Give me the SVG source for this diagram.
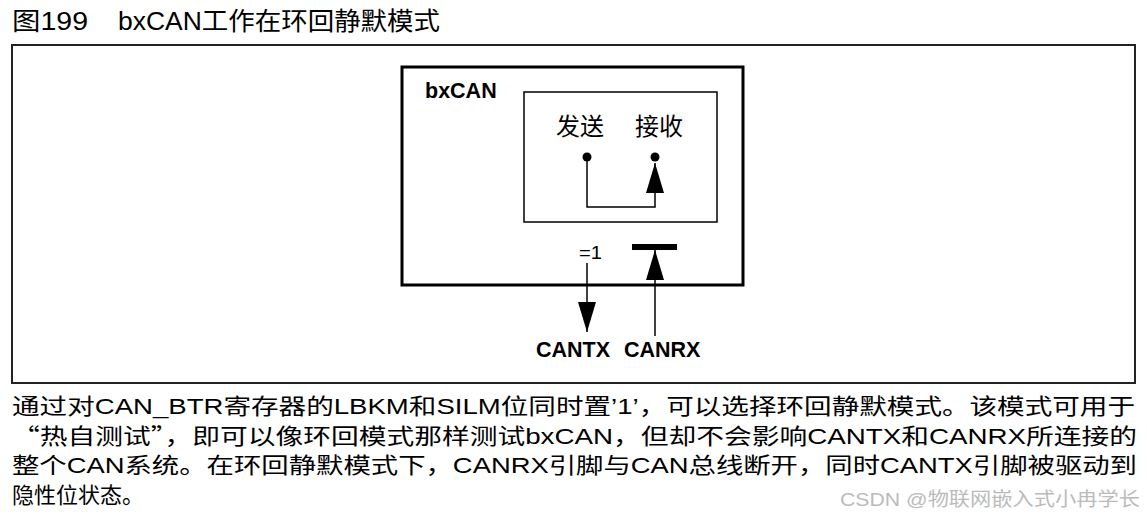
<svg xmlns="http://www.w3.org/2000/svg" width="1147" height="521" viewBox="0 0 1147 521">
<style>
.t{font-family:"Liberation Sans","Noto Sans CJK SC",sans-serif;fill:#000}
.b{font-family:"Liberation Sans",sans-serif;font-weight:bold;fill:#000}
.p{font-size:22px}
.q{font-family:"Noto Sans CJK SC",sans-serif}
.wm{font-family:"Liberation Sans","Noto Sans CJK SC",sans-serif;fill:#bbb;font-size:19px}
</style>
<defs>
<marker id="ah" viewBox="0 0 30 18" refX="30" refY="9" markerWidth="30" markerHeight="18" markerUnits="userSpaceOnUse" orient="auto">
<path d="M30 9 L0 0 L0 18 Z" fill="#000"/>
</marker>
</defs>
<rect width="1147" height="521" fill="#fff"/>
<g id="title">
<text class="t" x="12" y="30" font-size="25" textLength="76" lengthAdjust="spacingAndGlyphs">图199</text>
<text class="t" x="118" y="30" font-size="25" textLength="322" lengthAdjust="spacingAndGlyphs">bxCAN工作在环回静默模式</text>
</g>
<rect id="frame" x="12" y="45" width="1123" height="338" fill="none" stroke="#222" stroke-width="2"/>
<g id="bxcan">
<rect x="402" y="67" width="341" height="218" fill="none" stroke="#000" stroke-width="3"/>
<text class="b" x="425" y="98" font-size="21.5">bxCAN</text>
</g>
<g id="inner">
<rect x="524" y="92" width="193" height="130" fill="none" stroke="#000" stroke-width="1.5"/>
<text class="t" x="556" y="135" font-size="24">发送</text>
<text class="t" x="635" y="135" font-size="24">接收</text>
<circle cx="587" cy="157" r="4.5" fill="#000"/>
<circle cx="655" cy="157" r="4.5" fill="#000"/>
</g>
<g id="canrx-pin">
<rect x="632" y="244" width="45" height="6" fill="#000"/>
</g>
<g id="labels">
<text class="t" x="579" y="259" font-size="18" textLength="23" lengthAdjust="spacingAndGlyphs">=1</text>
<text class="b" x="536" y="357" font-size="21.5">CANTX</text>
<text class="b" x="624" y="357" font-size="21.5">CANRX</text>
</g>
<g id="connectors" fill="none" stroke="#000" stroke-width="1.5">
<path d="M587 157 V207 H655 V163" marker-end="url(#ah)"/>
<path d="M587 263 V332" marker-end="url(#ah)"/>
<path d="M655 336 V250" marker-end="url(#ah)"/>
</g>
<g id="paragraph">
<text class="t p" x="12" y="414" textLength="1123" lengthAdjust="spacingAndGlyphs">通过对CAN_BTR寄存器的LBKM和SILM位同时置’1’，可以选择环回静默模式。该模式可用于</text>
<text class="t p" x="12" y="444" textLength="1125" lengthAdjust="spacingAndGlyphs"><tspan class="q">“</tspan>热自测试<tspan class="q">”</tspan>，即可以像环回模式那样测试bxCAN，但却不会影响CANTX和CANRX所连接的</text>
<text class="t p" x="12" y="473" textLength="1125" lengthAdjust="spacingAndGlyphs">整个CAN系统。在环回静默模式下，CANRX引脚与CAN总线断开，同时CANTX引脚被驱动到</text>
<text class="t p" x="12" y="503">隐性位状态。</text>
</g>
<text class="wm" x="840" y="506" textLength="300" lengthAdjust="spacingAndGlyphs">CSDN @物联网嵌入式小冉学长</text>
</svg>
